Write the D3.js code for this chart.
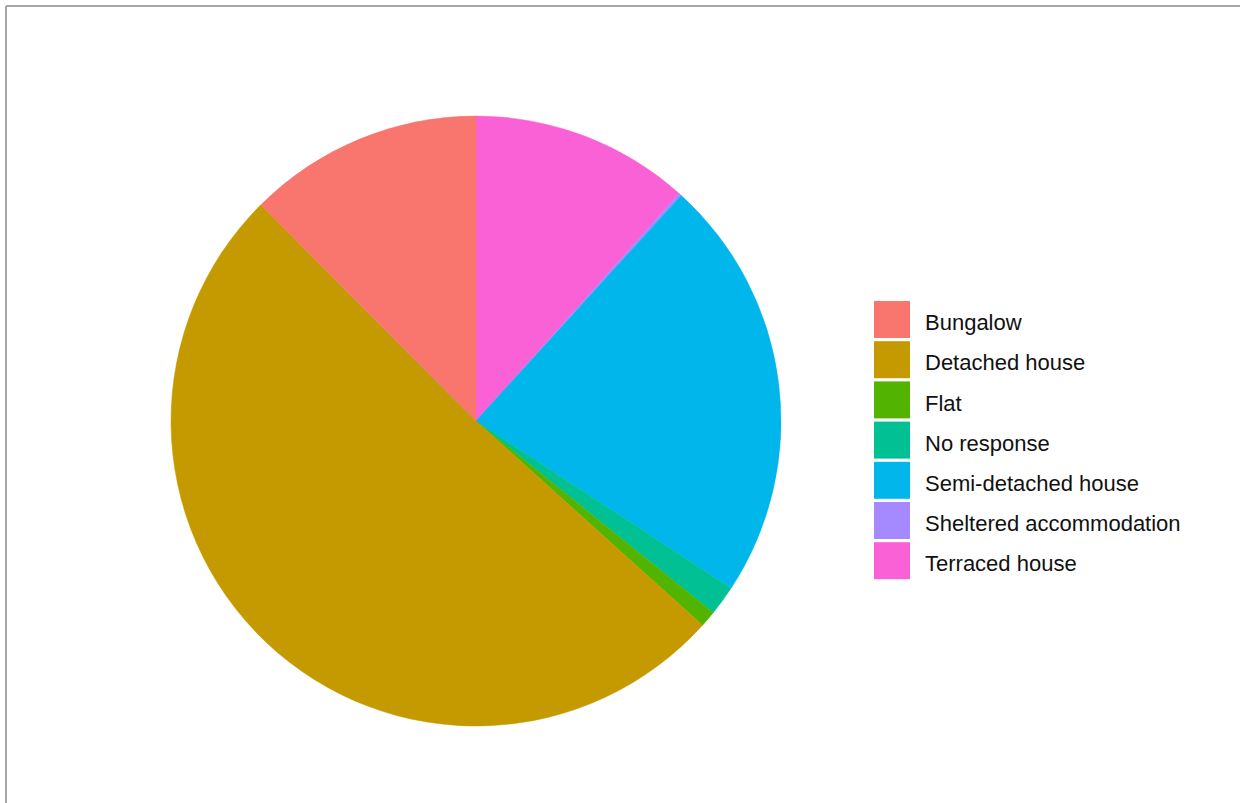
<!DOCTYPE html>
<html>
<head>
<meta charset="utf-8">
<script src="https://cdn.jsdelivr.net/npm/d3@7/dist/d3.min.js"></script>
<style>
  html, body { margin: 0; padding: 0; background: #ffffff; }
  svg { display: block; }
</style>
</head>
<body>
<svg id="chart" width="1240" height="803"></svg>
<script>
// Data (approximate counts)
const categories = ["Bungalow", "Detached house", "Flat", "No response",
                    "Semi-detached house", "Sheltered accommodation", "Terraced house"];
const counts = [87, 355, 6, 11, 157, 1, 81];
const colors = ["#F8766D", "#C49A00", "#53B400", "#00C094", "#00B6EB", "#A58AFF", "#FB61D7"];

const svg = d3.select("#chart");
const W = 1240, H = 803;

// frame (top and left grey border)
svg.append("line").attr("x1", 6).attr("y1", 6).attr("x2", W).attr("y2", 6)
  .attr("stroke", "#a6a6a6").attr("stroke-width", 2);
svg.append("line").attr("x1", 6).attr("y1", 6).attr("x2", 6).attr("y2", H)
  .attr("stroke", "#a6a6a6").attr("stroke-width", 2);

const cx = 476, cy = 421, R = 305;

const color = d3.scaleOrdinal().domain(categories).range(colors);

// ggplot stacks the first level last: clockwise order from 12 o'clock is reversed
const data = categories.map((c, i) => ({ cat: c, value: counts[i] })).reverse();

const pie = d3.pie().value(d => d.value).sort(null).startAngle(0).endAngle(2 * Math.PI);
const arc = d3.arc().innerRadius(0).outerRadius(R);

const g = svg.append("g").attr("transform", `translate(${cx},${cy})`);
g.selectAll("path.slice")
  .data(pie(data))
  .join("path")
  .attr("class", "slice")
  .attr("d", arc)
  .attr("fill", d => color(d.data.cat))
  .attr("stroke", d => color(d.data.cat))
  .attr("stroke-width", 0.5);

// legend
const keyX = 874, keyY = 301, keyW = 36, keyH = 37, pitch = 40.2;
const leg = svg.append("g");
const items = leg.selectAll("g.item").data(categories).join("g")
  .attr("class", "item")
  .attr("transform", (d, i) => `translate(${keyX},${keyY + i * pitch})`);
items.append("rect")
  .attr("width", keyW).attr("height", keyH)
  .attr("fill", d => color(d));
items.append("text")
  .attr("x", 51).attr("y", keyH / 2 + 3)
  .attr("dy", "0.35em")
  .attr("font-family", "Liberation Sans, Arial, sans-serif")
  .attr("font-size", 22)
  .attr("fill", "#111111")
  .text(d => d);
</script>
</body>
</html>
